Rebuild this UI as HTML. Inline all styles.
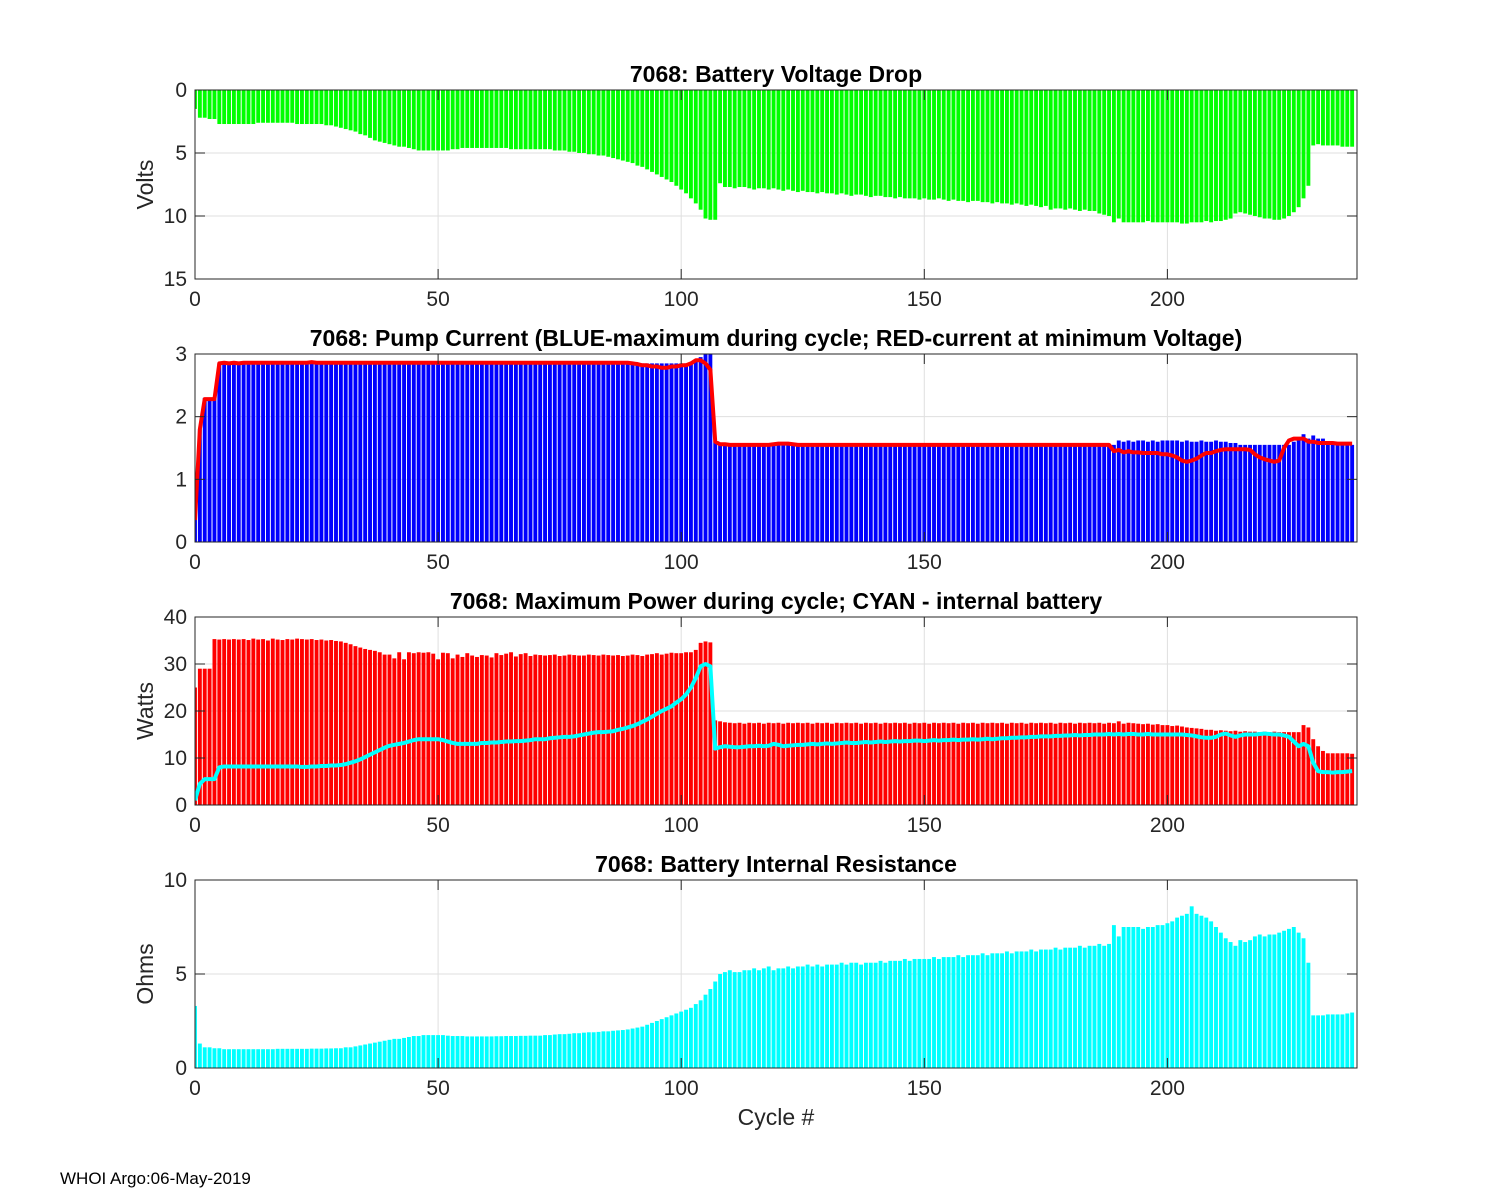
<!DOCTYPE html>
<html><head><meta charset="utf-8">
<style>
body{margin:0;background:#fff;}
svg{display:block;font-family:"Liberation Sans",Arial,sans-serif;}
</style></head>
<body>
<svg id="fig" width="1500" height="1200" viewBox="0 0 1500 1200">
<rect width="1500" height="1200" fill="#fff"/>
<text x="60" y="1184" font-size="17" fill="#000">WHOI Argo:06-May-2019</text>
<text x="776" y="1125" font-size="23" text-anchor="middle" fill="#262626">Cycle #</text>
</svg>
<script>
const voltageDrop=[1.5,2.2,2.2,2.3,2.3,2.7,2.7,2.7,2.7,2.7,
2.7,2.7,2.7,2.6,2.6,2.6,2.6,2.6,2.6,2.6,
2.6,2.7,2.7,2.7,2.7,2.7,2.7,2.8,2.8,2.9,
3.0,3.1,3.2,3.3,3.5,3.6,3.8,4.0,4.1,4.2,
4.3,4.4,4.5,4.5,4.6,4.7,4.8,4.8,4.8,4.8,
4.8,4.8,4.8,4.7,4.7,4.6,4.6,4.6,4.6,4.6,
4.6,4.6,4.6,4.6,4.6,4.7,4.7,4.7,4.7,4.7,
4.7,4.7,4.7,4.7,4.8,4.8,4.8,4.9,4.9,5.0,
5.0,5.1,5.1,5.2,5.2,5.3,5.4,5.5,5.6,5.7,
5.8,6.0,6.1,6.3,6.5,6.7,6.9,7.1,7.3,7.6,
7.9,8.2,8.6,9.0,9.5,10.2,10.3,10.3,7.4,7.7,
7.7,7.8,7.7,7.7,7.8,7.9,7.8,7.8,7.9,7.8,
7.9,8.0,7.9,8.0,8.1,8.0,8.1,8.1,8.2,8.1,
8.2,8.2,8.3,8.2,8.3,8.4,8.3,8.3,8.4,8.5,
8.4,8.4,8.5,8.5,8.6,8.5,8.6,8.6,8.6,8.7,
8.6,8.7,8.7,8.6,8.7,8.8,8.7,8.8,8.8,8.9,
8.8,8.8,8.9,8.9,9.0,8.9,9.0,9.0,9.1,9.0,
9.1,9.2,9.1,9.2,9.3,9.2,9.5,9.4,9.4,9.5,
9.4,9.5,9.6,9.5,9.6,9.6,9.8,9.9,10.0,10.5,
10.2,10.5,10.5,10.5,10.5,10.5,10.4,10.5,10.5,10.5,
10.5,10.5,10.5,10.6,10.6,10.5,10.5,10.5,10.4,10.5,
10.4,10.4,10.3,10.2,9.8,9.7,9.8,9.9,10.0,10.1,
10.2,10.2,10.3,10.3,10.2,10.0,9.7,9.3,8.6,7.6,
4.4,4.3,4.4,4.4,4.4,4.4,4.5,4.5,4.5];

const maxCurrent=[0.4,1.8,2.3,2.3,2.3,2.85,2.85,2.85,2.87,2.85,
2.85,2.87,2.85,2.85,2.87,2.85,2.85,2.87,2.85,2.85,
2.87,2.85,2.85,2.87,2.87,2.85,2.85,2.87,2.85,2.85,
2.85,2.87,2.85,2.85,2.87,2.85,2.85,2.87,2.85,2.85,
2.87,2.85,2.85,2.87,2.85,2.85,2.87,2.85,2.85,2.87,
2.85,2.85,2.87,2.85,2.85,2.87,2.85,2.85,2.87,2.85,
2.85,2.87,2.85,2.85,2.87,2.85,2.85,2.87,2.85,2.85,
2.87,2.85,2.85,2.87,2.85,2.85,2.87,2.85,2.85,2.87,
2.85,2.85,2.87,2.85,2.85,2.87,2.85,2.85,2.87,2.85,
2.85,2.85,2.85,2.85,2.85,2.85,2.85,2.85,2.85,2.85,
2.85,2.85,2.85,2.9,2.95,3.0,3.0,1.6,1.55,1.55,
1.55,1.55,1.55,1.55,1.55,1.55,1.55,1.55,1.55,1.55,
1.56,1.56,1.57,1.56,1.55,1.55,1.55,1.55,1.55,1.55,
1.55,1.55,1.55,1.55,1.55,1.55,1.55,1.55,1.55,1.55,
1.55,1.55,1.55,1.55,1.55,1.55,1.55,1.55,1.55,1.55,
1.55,1.55,1.55,1.55,1.55,1.55,1.55,1.55,1.55,1.55,
1.55,1.55,1.55,1.55,1.55,1.55,1.55,1.55,1.55,1.55,
1.55,1.55,1.55,1.55,1.55,1.55,1.55,1.55,1.55,1.55,
1.55,1.55,1.55,1.55,1.55,1.55,1.55,1.55,1.55,1.55,
1.62,1.6,1.62,1.6,1.62,1.62,1.6,1.62,1.6,1.62,
1.62,1.62,1.62,1.6,1.62,1.6,1.6,1.62,1.6,1.6,
1.62,1.6,1.6,1.58,1.58,1.55,1.55,1.55,1.55,1.55,
1.55,1.55,1.55,1.55,1.55,1.55,1.6,1.65,1.72,1.65,
1.7,1.65,1.65,1.55,1.55,1.55,1.55,1.55,1.55];

const minVoltCurrent=[0.35,1.8,2.28,2.28,2.28,2.85,2.86,2.85,2.86,2.85,
2.86,2.86,2.86,2.86,2.86,2.86,2.86,2.86,2.86,2.86,
2.86,2.86,2.86,2.86,2.87,2.86,2.86,2.86,2.86,2.86,
2.86,2.86,2.86,2.86,2.86,2.86,2.86,2.86,2.86,2.86,
2.86,2.86,2.86,2.86,2.86,2.86,2.86,2.86,2.86,2.86,
2.86,2.86,2.86,2.86,2.86,2.86,2.86,2.86,2.86,2.86,
2.86,2.86,2.86,2.86,2.86,2.86,2.86,2.86,2.86,2.86,
2.86,2.86,2.86,2.86,2.86,2.86,2.86,2.86,2.86,2.86,
2.86,2.86,2.86,2.86,2.86,2.86,2.86,2.86,2.86,2.86,
2.85,2.84,2.82,2.82,2.8,2.8,2.78,2.78,2.8,2.8,
2.82,2.82,2.85,2.9,2.9,2.85,2.75,1.6,1.56,1.56,
1.55,1.55,1.55,1.55,1.55,1.55,1.55,1.55,1.55,1.56,
1.57,1.57,1.57,1.56,1.55,1.55,1.55,1.55,1.55,1.55,
1.55,1.55,1.55,1.55,1.55,1.55,1.55,1.55,1.55,1.55,
1.55,1.55,1.55,1.55,1.55,1.55,1.55,1.55,1.55,1.55,
1.55,1.55,1.55,1.55,1.55,1.55,1.55,1.55,1.55,1.55,
1.55,1.55,1.55,1.55,1.55,1.55,1.55,1.55,1.55,1.55,
1.55,1.55,1.55,1.55,1.55,1.55,1.55,1.55,1.55,1.55,
1.55,1.55,1.55,1.55,1.55,1.55,1.55,1.55,1.55,1.45,
1.47,1.43,1.45,1.43,1.43,1.42,1.42,1.42,1.42,1.4,
1.4,1.38,1.35,1.3,1.28,1.3,1.33,1.38,1.42,1.42,
1.45,1.47,1.48,1.48,1.48,1.48,1.48,1.47,1.4,1.35,
1.32,1.3,1.28,1.3,1.5,1.62,1.65,1.65,1.65,1.6,
1.6,1.58,1.58,1.58,1.58,1.57,1.57,1.57,1.57];

const maxPower=[25,29,29,29,35.3,35.2,35.3,35.2,35.3,35.2,
35.3,35.1,35.4,35.2,35.3,35.0,35.4,35.2,35.1,35.3,
35.2,35.4,35.3,35.2,35.3,35.1,35.2,35.0,35.1,34.9,
34.8,34.5,34.2,33.8,33.5,33.2,33.0,32.8,32.5,32.0,
32.0,31.2,32.5,31.0,32.5,32.3,32.5,32.4,32.5,32.2,
31.0,32.4,32.3,31.2,32.0,31.5,32.3,31.8,31.5,31.9,
31.8,31.4,32.3,31.9,32.2,32.5,31.6,32.1,32.3,31.7,
32.0,31.9,31.8,31.9,32.0,31.7,31.8,32.0,31.9,31.8,
31.8,32.0,31.9,31.8,32.0,31.9,31.8,31.9,31.7,31.8,
32.0,31.9,31.7,32.0,32.1,32.3,32.0,32.2,32.4,32.3,
32.3,32.5,32.5,33.0,34.5,34.8,34.6,18.0,17.8,17.6,
17.5,17.4,17.5,17.3,17.5,17.4,17.5,17.3,17.5,17.4,
17.5,17.3,17.5,17.4,17.5,17.4,17.5,17.3,17.5,17.4,
17.5,17.3,17.5,17.4,17.5,17.4,17.5,17.3,17.5,17.4,
17.5,17.3,17.5,17.4,17.5,17.4,17.5,17.3,17.5,17.4,
17.5,17.3,17.5,17.4,17.5,17.4,17.5,17.3,17.5,17.4,
17.5,17.3,17.5,17.4,17.5,17.4,17.5,17.3,17.5,17.4,
17.5,17.3,17.5,17.4,17.5,17.4,17.5,17.3,17.5,17.4,
17.5,17.3,17.5,17.4,17.5,17.4,17.5,17.3,17.5,17.4,
17.8,17.3,17.5,17.4,17.3,17.2,17.3,17.1,17.2,17.0,
17.0,16.8,16.9,16.7,16.5,16.4,16.3,16.2,16.0,16.0,
15.8,15.9,15.8,15.7,15.8,15.6,15.7,15.6,15.6,15.5,
15.6,15.5,15.6,15.5,15.5,15.5,15.5,15.5,17.0,16.5,
14.0,12.5,11.5,11.0,11.0,11.0,11.0,11.0,10.9];

const internalPower=[1,4.5,5.5,5.5,5.5,8.0,8.2,8.2,8.2,8.2,
8.2,8.2,8.2,8.2,8.2,8.2,8.2,8.2,8.2,8.2,
8.2,8.2,8.1,8.1,8.2,8.2,8.3,8.3,8.4,8.4,
8.5,8.7,9.0,9.3,9.7,10.2,10.7,11.2,11.7,12.2,
12.6,12.8,13.0,13.2,13.5,13.8,14.0,14.0,14.0,14.0,
14.0,13.8,13.5,13.2,13.0,13.0,13.0,13.0,13.0,13.2,
13.2,13.3,13.3,13.4,13.5,13.5,13.6,13.6,13.7,13.8,
14.0,14.0,14.0,14.2,14.3,14.4,14.5,14.5,14.6,14.8,
15.0,15.2,15.4,15.5,15.5,15.6,15.7,16.0,16.2,16.5,
16.8,17.2,17.7,18.2,18.8,19.4,20.0,20.5,21.0,21.8,
22.5,23.5,25.0,27.0,29.5,30.0,29.5,12.0,12.3,12.5,
12.4,12.3,12.3,12.4,12.5,12.5,12.6,12.5,12.6,13.0,
12.8,12.5,12.6,12.7,12.8,12.8,12.9,13.0,12.9,13.0,
13.1,13.0,13.1,13.2,13.3,13.2,13.2,13.3,13.4,13.3,
13.4,13.5,13.4,13.5,13.6,13.5,13.6,13.6,13.7,13.7,
13.6,13.7,13.8,13.7,13.8,13.8,13.9,13.8,13.9,13.9,
14.0,13.9,14.0,14.1,14.0,14.1,14.2,14.2,14.3,14.3,
14.4,14.4,14.5,14.5,14.6,14.6,14.6,14.7,14.7,14.8,
14.8,14.9,14.8,14.9,14.9,15.0,15.0,15.0,15.1,15.0,
15.1,15.0,15.1,15.1,15.0,15.0,15.1,15.0,15.0,15.0,
15.0,15.0,15.0,15.0,14.9,14.8,14.6,14.4,14.3,14.3,
14.5,15.0,15.2,14.8,14.5,14.8,15.0,15.0,15.0,15.1,
15.2,15.1,15.0,15.0,14.8,14.5,13.5,12.5,13.0,12.5,
9.0,7.2,7.0,7.0,6.9,7.0,7.0,7.1,7.2];

const resistance=[3.3,1.3,1.1,1.1,1.05,1.05,1.0,1.0,1.0,1.0,
1.0,1.0,1.0,1.0,1.0,1.0,1.0,1.02,1.02,1.02,
1.02,1.02,1.02,1.02,1.03,1.03,1.03,1.04,1.04,1.05,
1.05,1.1,1.1,1.15,1.2,1.25,1.3,1.35,1.4,1.45,
1.5,1.55,1.55,1.6,1.65,1.7,1.7,1.75,1.75,1.75,
1.75,1.75,1.72,1.7,1.7,1.7,1.68,1.68,1.68,1.68,
1.68,1.68,1.69,1.69,1.7,1.7,1.7,1.71,1.71,1.72,
1.72,1.72,1.75,1.75,1.78,1.8,1.8,1.82,1.85,1.85,
1.88,1.9,1.9,1.92,1.95,1.95,1.98,2.0,2.02,2.05,
2.1,2.15,2.2,2.3,2.4,2.5,2.6,2.7,2.8,2.9,
3.0,3.1,3.2,3.4,3.6,3.9,4.2,4.6,5.0,5.1,
5.2,5.1,5.1,5.2,5.2,5.3,5.2,5.3,5.4,5.2,
5.3,5.3,5.4,5.3,5.4,5.4,5.5,5.4,5.5,5.4,
5.5,5.5,5.5,5.6,5.5,5.6,5.6,5.5,5.6,5.6,
5.6,5.7,5.6,5.7,5.7,5.7,5.8,5.7,5.8,5.8,
5.8,5.8,5.9,5.8,5.9,5.9,5.9,6.0,5.9,6.0,
6.0,6.0,6.1,6.0,6.1,6.1,6.1,6.2,6.1,6.2,
6.2,6.2,6.3,6.2,6.3,6.3,6.3,6.4,6.3,6.4,
6.4,6.4,6.5,6.4,6.5,6.5,6.6,6.5,6.6,7.6,
7.0,7.5,7.5,7.5,7.5,7.4,7.5,7.5,7.6,7.6,
7.7,7.8,8.0,8.1,8.2,8.6,8.2,8.1,8.0,7.8,
7.5,7.2,6.9,6.7,6.5,6.8,6.7,6.8,7.0,7.1,
7.0,7.1,7.1,7.2,7.3,7.4,7.5,7.2,6.9,5.6,
2.8,2.8,2.8,2.85,2.85,2.85,2.85,2.9,2.95];

const xTicks=[0,50,100,150,200];
const p1Ticks=[0,5,10,15], p2Ticks=[0,1,2,3], p3Ticks=[0,10,20,30,40], p4Ticks=[0,5,10];

const NS='http://www.w3.org/2000/svg';
const svg=document.getElementById('fig');
const X0=195,X1=1357,XMAX=239;
function mk(tag,attrs,parent){const e=document.createElementNS(NS,tag);for(const k in attrs)e.setAttribute(k,attrs[k]);(parent||svg).appendChild(e);return e;}
function makePanel(id,top,bot,ymax,reversed,ticks,title,ylabel){
  const g=mk('g',{});
  
  
  const xs=v=>X0+(X1-X0)*v/XMAX;
  const ys=v=>reversed? top+(bot-top)*v/ymax : bot-(bot-top)*v/ymax;
  const cp=mk('clipPath',{id:'clip-'+id},g);
  mk('rect',{x:X0,y:top,width:X1-X0,height:bot-top},cp);
  xTicks.forEach(t=>{if(t>0)mk('line',{x1:xs(t),x2:xs(t),y1:top,y2:bot,stroke:'#dfdfdf','stroke-width':1},g);});
  ticks.forEach(t=>{mk('line',{x1:X0,x2:X1,y1:ys(t),y2:ys(t),stroke:'#dfdfdf','stroke-width':1},g);});
  const plot=mk('g',{'clip-path':'url(#clip-'+id+')'},g);
  
  
  mk('rect',{x:X0,y:top,width:X1-X0,height:bot-top,fill:'none',stroke:'#262626','stroke-width':1},g);
  xTicks.forEach(t=>{
    mk('line',{x1:xs(t),x2:xs(t),y1:bot,y2:bot-10,stroke:'#262626'},g);
    mk('line',{x1:xs(t),x2:xs(t),y1:top,y2:top+10,stroke:'#262626'},g);
    const tx=mk('text',{x:xs(t),y:bot+27,'font-size':21,'text-anchor':'middle',fill:'#262626'},g);
    tx.textContent=t;
    
    
  });
  ticks.forEach(t=>{
    mk('line',{x1:X0,x2:X0+10,y1:ys(t),y2:ys(t),stroke:'#262626'},g);
    mk('line',{x1:X1,x2:X1-10,y1:ys(t),y2:ys(t),stroke:'#262626'},g);
    const tx=mk('text',{x:X0-8,y:ys(t)+7,'font-size':21,'text-anchor':'end',fill:'#262626'},g);
    tx.textContent=t;
    
    
  });
  const tt=mk('text',{x:(X0+X1)/2,y:top-8,'font-size':23,'font-weight':'bold','text-anchor':'middle',fill:'#000'},g);
  tt.textContent=title;
  
  
  if(ylabel){
    const cy=(top+bot)/2;
    const yl=mk('text',{x:153,y:cy,'font-size':23,'text-anchor':'middle',fill:'#262626',transform:`rotate(-90 153 ${cy})`},g);
    yl.textContent=ylabel;
    
    
  }
  return {plot,xs,ys};
}
function bars(p,data,color,name){
  const w=(X1-X0)/XMAX*0.8;
  data.forEach((v,i)=>{
    const y0=p.ys(0),y1=p.ys(v);
    const r=mk('rect',{x:p.xs(i)-w/2,y:Math.min(y0,y1),width:w,height:Math.abs(y1-y0),fill:color},p.plot);
    
    
  });
}
function line(p,data,color,name){
  const d=data.map((v,i)=>(i?'L':'M')+p.xs(i).toFixed(2)+' '+p.ys(v).toFixed(2)).join(' ');
  const l=mk('path',{d,fill:'none',stroke:color,'stroke-width':4,'stroke-linejoin':'round'},p.plot);
  
  
}
const p1=makePanel('voltage',90,279,15,true,p1Ticks,'7068: Battery Voltage Drop','Volts');
bars(p1,voltageDrop,'#00ff00','voltage-drop-bar');
const p2=makePanel('current',354,542,3,false,p2Ticks,'7068: Pump Current (BLUE-maximum during cycle; RED-current at minimum Voltage)','');
bars(p2,maxCurrent,'#0000ff','max-current-bar');
line(p2,minVoltCurrent,'#ff0000','min-voltage-current-line');
const p3=makePanel('power',617,805,40,false,p3Ticks,'7068: Maximum Power during cycle; CYAN - internal battery','Watts');
bars(p3,maxPower,'#ff0000','max-power-bar');
line(p3,internalPower,'#00ffff','internal-battery-power-line');
const p4=makePanel('resistance',880,1068,10,false,p4Ticks,'7068: Battery Internal Resistance','Ohms');
bars(p4,resistance,'#00ffff','resistance-bar');
</script>
</body></html>
